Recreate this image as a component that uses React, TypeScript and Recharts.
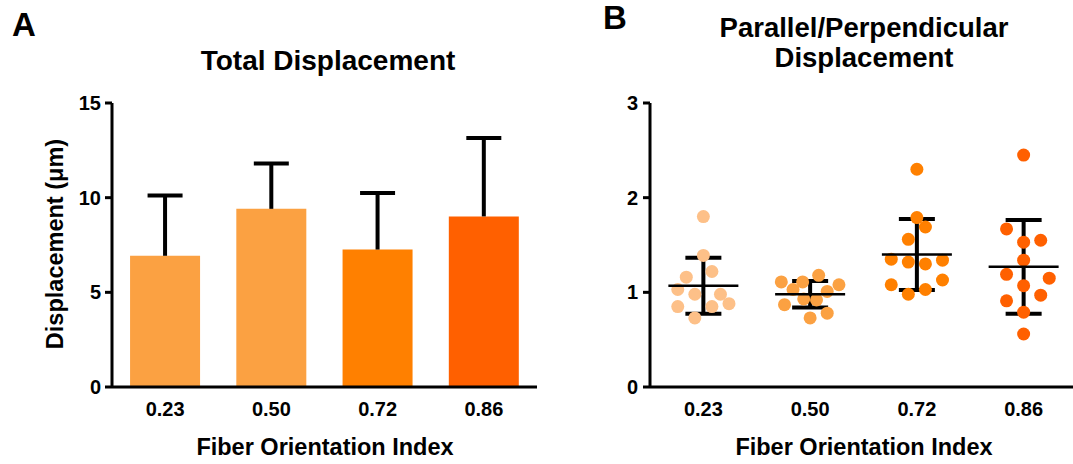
import React from "react";
import {
  BarChart,
  Bar,
  Cell,
  XAxis,
  YAxis,
  ScatterChart,
  Scatter,
  ErrorBar,
} from "recharts";

// categories shared by both panels
const categories = ["0.23", "0.50", "0.72", "0.86"];

// panel A: total displacement (um), mean and one-sided SD
const totalMean = [6.93, 9.41, 7.26, 9.01];
const totalSd = [3.19, 2.4, 2.98, 4.14];
const barColors = ["#FBA142", "#FBA142", "#FF8000", "#FF6000"];

// panel B: parallel/perpendicular ratio per sample, with horizontal jitter (in category units)
const ratio023 = [1.8, 1.39, 1.16, 1.22, 1.03, 0.98, 0.98, 0.85, 0.85, 0.88, 0.73];
const jitter023 = [0, 0, -0.16, 0.08, -0.24, -0.08, 0.16, -0.24, 0.08, 0.24, -0.08];
const ratio050 = [1.11, 1.11, 1.18, 1.03, 1.01, 1.08, 0.93, 0.92, 0.87, 0.78, 0.73];
const jitter050 = [-0.27, -0.07, 0.08, -0.16, 0.16, 0.27, -0.06, 0.06, -0.24, 0.16, 0];
const ratio072 = [2.3, 1.79, 1.69, 1.56, 1.35, 1.32, 1.3, 1.34, 1.08, 1.13, 1.03, 0.98];
const jitter072 = [0, 0, 0.08, -0.08, -0.24, -0.08, 0.08, 0.24, -0.24, 0.24, 0.08, -0.08];
const ratio086 = [2.45, 1.67, 1.53, 1.55, 1.34, 1.19, 1.15, 1.07, 0.91, 0.97, 0.79, 0.56];
const jitter086 = [0, -0.16, 0, 0.16, 0, -0.16, 0.24, 0, -0.16, 0.16, 0, 0];
const ratioMean = [1.07, 0.98, 1.4, 1.27];
const ratioSd = [0.295, 0.139, 0.375, 0.495];
const dotColors = ["#FDC088", "#FBA142", "#FF8000", "#FF6000"];

const FONT = "'Liberation Sans', Arial, Helvetica, sans-serif";

const barData = categories.map((c, i) => ({
  name: c,
  mean: totalMean[i],
  sd: totalSd[i],
}));

const groups = [
  { ratio: ratio023, jitter: jitter023 },
  { ratio: ratio050, jitter: jitter050 },
  { ratio: ratio072, jitter: jitter072 },
  { ratio: ratio086, jitter: jitter086 },
];

const dotData = groups.map((g, i) =>
  g.ratio.map((v, j) => ({ x: i + 0.5 + g.jitter[j], y: v }))
);

const meanData = categories.map((c, i) => ({
  x: i + 0.5,
  y: ratioMean[i],
  sd: ratioSd[i],
}));

const tickStyle = { fill: "#000", fontSize: 20, fontWeight: "bold", fontFamily: FONT };
const axisStyle = { stroke: "#000", strokeWidth: 3 };

const SdWhisker = (props: any) => {
  const { x, y, width, height } = props;
  const cx = x + width / 2;
  return (
    <g>
      <line x1={cx} x2={cx} y1={y + height} y2={y} stroke="#000" strokeWidth={4} />
      <line x1={cx - 17.5} x2={cx + 17.5} y1={y} y2={y} stroke="#000" strokeWidth={4} />
    </g>
  );
};

const Dot = (color: string) => (props: any) => (
  <circle cx={props.cx} cy={props.cy} r={6.5} fill={color} />
);

const MeanLine = (props: any) => {
  const { cx, cy } = props;
  return (
    <line x1={cx - 35} x2={cx + 35} y1={cy} y2={cy} stroke="#000" strokeWidth={2.5} />
  );
};

const App: React.FC = () => {
  return (
    <div
      style={{
        position: "absolute",
        left: 0,
        top: 0,
        width: 1073,
        height: 464,
        overflow: "hidden",
        background: "#fff",
      }}
    >
      <div style={{ position: "absolute", left: 0, top: 0 }}>
        <BarChart
          width={560}
          height={464}
          data={barData}
          margin={{ top: 103, right: 23, left: 52, bottom: 47 }}
          barCategoryGap="17%"
        >
          <XAxis
            dataKey="name"
            axisLine={axisStyle}
            tickLine={false}
            tickSize={0}
            tickMargin={15}
            tick={tickStyle}
          />
          <YAxis
            type="number"
            domain={[0, 15]}
            ticks={[0, 5, 10, 15]}
            width={60}
            axisLine={axisStyle}
            tickLine={axisStyle}
            tickSize={7}
            tickMargin={4}
            tick={tickStyle}
          />
          <Bar dataKey="mean" stackId="a" isAnimationActive={false}>
            {barData.map((d, i) => (
              <Cell key={d.name} fill={barColors[i]} />
            ))}
          </Bar>
          <Bar dataKey="sd" stackId="a" shape={SdWhisker} isAnimationActive={false} />
        </BarChart>
      </div>

      <div style={{ position: "absolute", left: 560, top: 0 }}>
        <ScatterChart
          width={560}
          height={464}
          margin={{ top: 103, right: 43, left: 30, bottom: 47 }}
        >
          <XAxis
            type="number"
            dataKey="x"
            domain={[0, 4]}
            ticks={[0.5, 1.5, 2.5, 3.5]}
            interval={0}
            tickFormatter={(v: number) => categories[Math.floor(v)]}
            axisLine={axisStyle}
            tickLine={false}
            tickSize={0}
            tickMargin={15}
            tick={tickStyle}
          />
          <YAxis
            type="number"
            dataKey="y"
            domain={[0, 3]}
            ticks={[0, 1, 2, 3]}
            width={60}
            axisLine={axisStyle}
            tickLine={axisStyle}
            tickSize={7}
            tickMargin={5}
            tick={tickStyle}
          />
          {dotData.map((d, i) => (
            <Scatter
              key={categories[i]}
              data={d}
              shape={Dot(dotColors[i])}
              isAnimationActive={false}
            />
          ))}
          <Scatter data={meanData} shape={MeanLine} isAnimationActive={false}>
            <ErrorBar
              dataKey="sd"
              direction="y"
              width={18}
              strokeWidth={4}
              stroke="#000"
              isAnimationActive={false}
            />
          </Scatter>
        </ScatterChart>
      </div>

      <svg
        width={1073}
        height={464}
        style={{ position: "absolute", left: 0, top: 0, pointerEvents: "none" }}
        fontFamily={FONT}
        fontWeight="bold"
        fill="#000"
      >
        <text x={12} y={36} fontSize={33}>A</text>
        <text x={603} y={29} fontSize={33}>B</text>
        <text x={328} y={70} fontSize={28} textAnchor="middle">Total Displacement</text>
        <text x={864} y={37} fontSize={27.5} textAnchor="middle">Parallel/Perpendicular</text>
        <text x={864} y={67} fontSize={27.5} textAnchor="middle">Displacement</text>
        <text x={325} y={455} fontSize={23.5} textAnchor="middle">Fiber Orientation Index</text>
        <text x={864} y={455} fontSize={23.5} textAnchor="middle">Fiber Orientation Index</text>
        <text
          x={63}
          y={244}
          fontSize={23.5}
          textAnchor="middle"
          transform="rotate(-90 63 244)"
        >
          Displacement (μm)
        </text>
      </svg>
    </div>
  );
};

export default App;
